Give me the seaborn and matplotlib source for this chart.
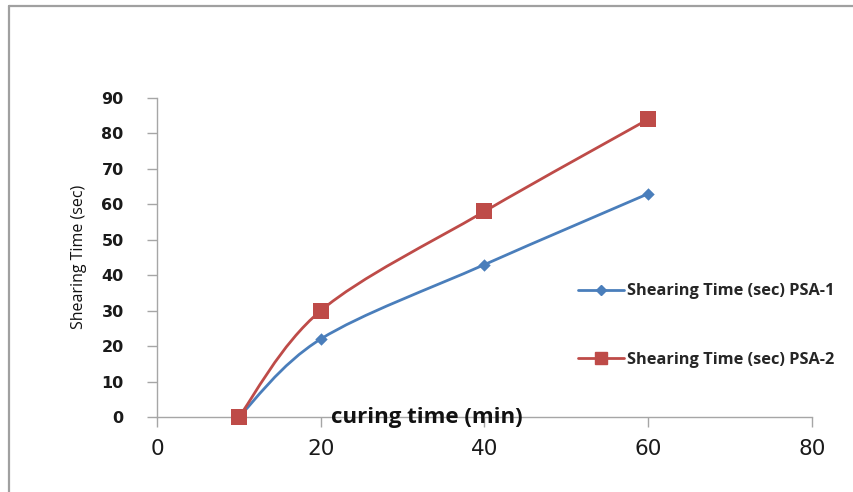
import numpy as np
import pandas as pd
import seaborn as sns
import matplotlib
matplotlib.use("Agg")
import matplotlib.pyplot as plt
from matplotlib.path import Path
from matplotlib.patches import PathPatch
from matplotlib.lines import Line2D
from matplotlib import font_manager

# --- data ---------------------------------------------------------------
curing_time = [10, 20, 40, 60]
psa1_shear = [0, 22, 43, 63]
psa2_shear = [0, 30, 58, 84]
series_names = ["Shearing Time (sec) PSA-1", "Shearing Time (sec) PSA-2"]
x_ticks = [0, 20, 40, 60, 80]
y_ticks = [0, 10, 20, 30, 40, 50, 60, 70, 80, 90]

colors = {series_names[0]: "#4A7EBB", series_names[1]: "#BE4B48"}
markers = {series_names[0]: "D", series_names[1]: "s"}
msizes = {series_names[0]: 40, series_names[1]: 130}

df = pd.DataFrame({
    "curing": curing_time * 2,
    "shear": psa1_shear + psa2_shear,
    "series": [series_names[0]] * 4 + [series_names[1]] * 4,
})

sns.set_theme(style="white")
installed = {f.name for f in font_manager.fontManager.ttflist}
narrow = "Liberation Sans Narrow" if "Liberation Sans Narrow" in installed else "Open Sans"
plt.rcParams["font.family"] = ["Open Sans", "DejaVu Sans"]

fig = plt.figure(figsize=(8.54, 4.92), dpi=100)
ax = fig.add_axes([0.1838, 0.1524, 0.7670, 0.6484])


def smooth_path(xs, ys):
    """Cubic Bezier path through the points (Excel-style smoothed line)."""
    pts = np.column_stack([xs, ys]).astype(float)
    n = len(pts)
    verts = [pts[0]]
    codes = [Path.MOVETO]
    for i in range(n - 1):
        p0 = pts[i - 1] if i > 0 else pts[i]
        p1 = pts[i]
        p2 = pts[i + 1]
        p3 = pts[i + 2] if i + 2 < n else pts[i + 1]
        c1 = p1 + (p2 - p0) / 6.0
        c2 = p2 - (p3 - p1) / 6.0
        verts += [c1, c2, p2]
        codes += [Path.CURVE4] * 3
    return Path(verts, codes)


for name, ys in zip(series_names, [psa1_shear, psa2_shear]):
    patch = PathPatch(smooth_path(curing_time, ys), facecolor="none",
                      edgecolor=colors[name], lw=2.0, zorder=2)
    ax.add_patch(patch)

for name in series_names:
    sub = df[df["series"] == name]
    sns.scatterplot(data=sub, x="curing", y="shear", ax=ax, color=colors[name],
                    marker=markers[name], s=msizes[name], edgecolor=colors[name],
                    linewidth=0, legend=False, zorder=3, clip_on=False)

ax.set_xlim(0, 80)
ax.set_ylim(0, 90)
ax.set_xticks(x_ticks)
ax.set_yticks(y_ticks)
ax.set_xlabel("")
ax.set_ylabel("")

for side in ["top", "right"]:
    ax.spines[side].set_visible(False)
for side in ["left", "bottom"]:
    ax.spines[side].set_color("#A6A6A6")
    ax.spines[side].set_linewidth(1.0)

ax.tick_params(axis="both", which="both", direction="out", length=7,
               width=1.0, color="#A6A6A6", left=True, bottom=True)
ax.tick_params(axis="y", pad=17)
ax.tick_params(axis="x", pad=9)
for lbl in ax.get_yticklabels():
    lbl.set_fontsize(11.5)
    lbl.set_fontweight("bold")
    lbl.set_family(["DejaVu Sans"])
    lbl.set_color("#1a1a1a")
for lbl in ax.get_xticklabels():
    lbl.set_fontsize(15.5)
    lbl.set_family(["DejaVu Sans"])
    lbl.set_color("#1a1a1a")

# axis titles
ax.text(33.0, -1.7, "curing time (min)", fontsize=16, fontweight="bold",
        ha="center", va="baseline", color="#111111", zorder=4)
fig.text(0.0925, 0.477, "Shearing Time (sec)", rotation=90, ha="center",
         va="center", fontsize=11.5, family=[narrow, "DejaVu Sans"], color="#111111")

handles = [Line2D([0], [0], color=colors[n], lw=2.0, marker=markers[n],
                  markersize=5 if markers[n] == "D" else 8) for n in series_names]
leg = ax.legend(handles, series_names, loc="upper left",
                bbox_to_anchor=(0.62, 0.465), frameon=False,
                handlelength=2.8, handletextpad=0.2, labelspacing=3.2,
                prop={"size": 11.8, "weight": "bold"})

# outer frame of the chart area (top and left edges)
fig.add_artist(Line2D([9 / 854, 9 / 854], [0, 1 - 6 / 492],
                      transform=fig.transFigure, color="#A0A0A0", lw=1.6))
fig.add_artist(Line2D([9 / 854, 1], [1 - 6 / 492, 1 - 6 / 492],
                      transform=fig.transFigure, color="#A0A0A0", lw=1.6))

fig.savefig("out.png", dpi=100)
